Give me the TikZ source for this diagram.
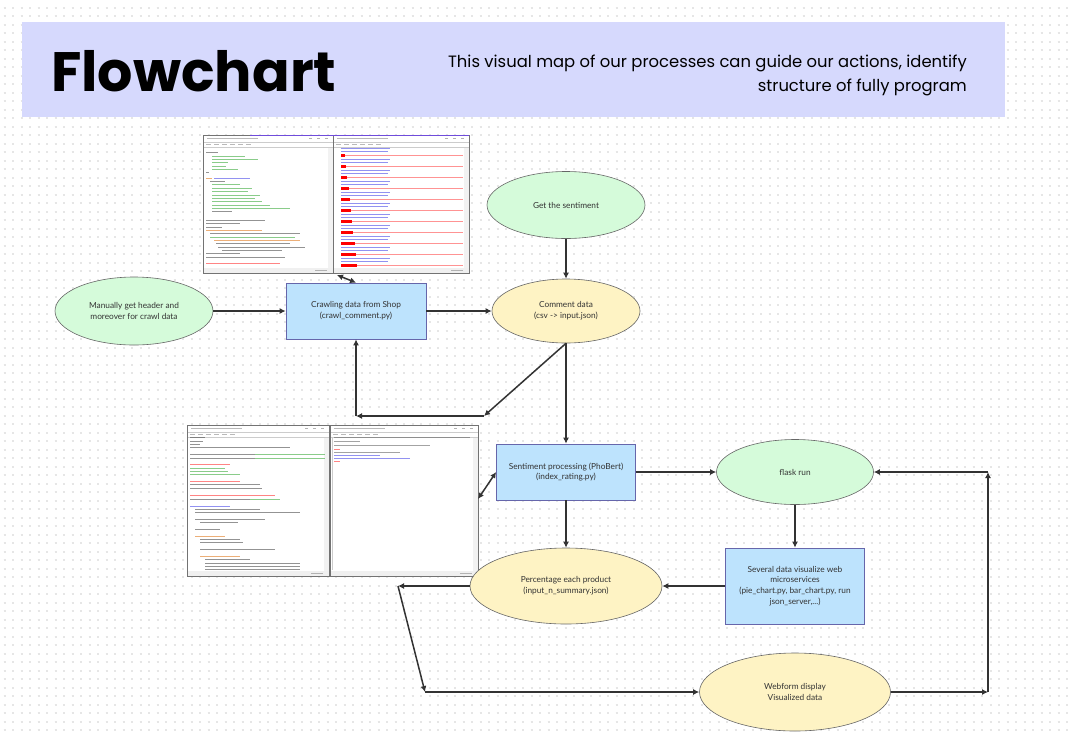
\documentclass[tikz,border=0pt]{standalone}
\usepackage{fontspec}
\setmainfont{Lato}
\newfontfamily\headfont{Poppins}
\usetikzlibrary{shapes.geometric,arrows.meta}

\definecolor{headbg}{HTML}{D6D9FD}
\definecolor{greenfill}{HTML}{D5FBDA}
\definecolor{yellowfill}{HTML}{FEF3C4}
\definecolor{bluefill}{HTML}{BDE3FD}
\definecolor{lineclr}{HTML}{333333}
\definecolor{dotclr}{HTML}{E6E6E6}
\definecolor{codegreen}{HTML}{3DAA3D}
\definecolor{codeblue}{HTML}{4A4AE8}
\definecolor{codeorange}{HTML}{E07A1F}

\tikzset{
  termnode/.style={ellipse, draw=black!60, line width=0.6pt, fill=greenfill, inner sep=0pt,
    align=center, text=black!80, font=\fontsize{8.3}{10.8}\selectfont},
  datanode/.style={termnode, fill=yellowfill},
  procbox/.style={rectangle, draw=black!55!blue!60, line width=0.7pt, fill=bluefill, inner sep=0pt,
    align=center, text=black!80, font=\fontsize{8.3}{10.8}\selectfont},
  flow/.style={draw=lineclr, line width=1.5pt, -{Latex[length=6pt,width=6pt]}},
  bothway/.style={draw=lineclr, line width=1.5pt, {Latex[length=6pt,width=6pt]}-{Latex[length=6pt,width=6pt]}},
  codeln/.style={line width=0.9pt},
}

\begin{document}
\begin{tikzpicture}[x=1pt,y=-1pt]
\useasboundingbox (0,0) rectangle (1068,732);
\fill[white] (0,0) rectangle (1068,732);
% dotted canvas
\foreach \y in {7.7,16.2,...,732}
  \draw[dotclr, line width=2pt, dash pattern=on 2pt off 6.5pt] (3.7,\y) -- (1068,\y);

% header
\fill[headbg] (22,22) rectangle (1005,117);
\node (title) at (51,91) [anchor=base west, inner sep=0pt, font=\headfont\bfseries\fontsize{55.5}{60}\selectfont] {Flowchart};
\node (sub) at (967,75) [anchor=east, inner sep=0pt, align=right, font=\headfont\fontsize{16.4}{24}\selectfont]
  {This visual map of our processes can guide our actions, identify\\structure of fully program};

% screenshots of the editors
\foreach \xa/\ya/\xb/\yb in {203/135/333/273, 333/135/469/273, 187/425/329/576, 330/425/478/576}
{
  \fill[white] (\xa,\ya) rectangle (\xb,\yb);
  \fill[gray!12] (\xa,\yb-5) rectangle (\xb,\yb);
  \fill[gray!10] (\xb-5,\ya+12) rectangle (\xb,\yb-5);
  \draw[gray!40, line width=0.4pt] (\xa,\ya+7) -- (\xb,\ya+7);
  \draw[gray!40, line width=0.4pt] (\xa,\ya+12) -- (\xb,\ya+12);
  \draw[gray!55, line width=0.8pt] (\xa+4,\ya+3.5) -- (\xa+55,\ya+3.5);
  \draw[gray!55, line width=0.7pt, dash pattern=on 5pt off 3pt] (\xa+3,\ya+9.5) -- (\xa+50,\ya+9.5);
  \draw[gray!60, line width=0.7pt, dash pattern=on 3pt off 5pt] (\xb-24,\ya+3.5) -- (\xb,\ya+3.5);
  \draw[gray!60, line width=0.6pt] (\xb-18,\yb-2.5) -- (\xb-6,\yb-2.5);
  \draw[black!55, line width=0.6pt] (\xa,\ya) rectangle (\xb,\yb);
}
\draw[blue!60!violet!70, line width=0.8pt] (250,135) -- (469,135);

% top left editor
\foreach \y/\a/\b/\c in {152/206/218/black!70, 156/212/245/codegreen, 159/212/258/codegreen,
  162/212/228/codegreen, 166/212/226/codegreen, 169/212/238/codegreen, 172/206/209/black!70,
  178/206/212/codeorange, 178/214/250/codeblue, 181/210/225/black!70, 184/212/240/codegreen,
  188/212/252/codegreen, 191/212/248/codegreen, 195/212/260/codegreen, 198/212/255/codegreen,
  201/212/262/codegreen, 205/212/270/codegreen, 208/212/290/codegreen, 211/212/232/black!70,
  220/206/265/black!70, 223/206/240/black!70, 227/206/222/black!70, 230/206/262/codeorange,
  233/210/300/black!70, 237/210/295/codegreen, 240/214/300/codeorange, 243/216/290/black!70,
  247/218/305/black!70, 250/222/282/black!70, 253/206/240/black!70, 257/206/285/black!70,
  263/206/280/red!80}
  \draw[codeln, \c, opacity=0.6] (\a,\y) -- (\b,\y);

% top right editor
\foreach \i in {0,...,10}
{
  \draw[codeln, codeblue, opacity=0.6] (341,148+11*\i) -- (390,148+11*\i);
  \draw[codeln, codeblue, opacity=0.6] (341,151.5+11*\i) -- (388,151.5+11*\i);
  \draw[codeln, red!70, opacity=0.6] (341,155+11*\i) -- (463,155+11*\i);
  \fill[red] (341,153.5+11*\i) rectangle (345+1.2*\i,156.5+11*\i);
}

% bottom left editor
\foreach \y/\a/\b/\c in {437/190/205/black!70, 441/190/203/black!70, 444/190/200/black!70,
  447/190/290/black!70, 454/190/255/black!70, 454/255/325/codegreen, 458/190/255/black!70,
  458/255/325/codegreen, 464/190/230/red!80, 468/190/225/codegreen, 471/190/228/codegreen,
  474/190/240/codegreen, 481/190/240/red!80, 484/190/260/black!70, 488/190/262/black!70,
  495/190/275/red!80, 499/190/250/black!70, 499/250/280/codegreen, 506/190/230/codeblue,
  509/195/260/black!70, 512/195/300/black!70, 519/195/265/black!70, 522/200/238/black!70,
  529/195/220/black!70, 536/195/225/codeorange, 539/200/240/black!70, 542/200/243/black!70,
  549/200/275/black!70, 556/200/240/codeorange, 559/205/250/black!70, 563/205/300/black!70,
  566/205/300/black!70, 569/205/300/black!70}
  \draw[codeln, \c, opacity=0.6] (\a,\y) -- (\b,\y);

% bottom right editor
\foreach \y/\a/\b/\c in {437/334/470/black!60, 441/334/360/black!60, 445/334/430/black!60,
  449/334/340/red!80, 452/334/400/black!60, 455/334/380/codeblue, 458/334/410/codeblue,
  461/334/340/red!80}
  \draw[codeln, \c, opacity=0.6] (\a,\y) -- (\b,\y);
\draw[gray!40, line width=0.5pt] (332,437) -- (332,570);

% flowchart nodes
\node (man) at (134,311) [termnode, minimum width=158pt, minimum height=68pt] {Manually get header and\\moreover for crawl data};
\node (crawl) at (356,311) [procbox, minimum width=140pt, minimum height=56pt] {Crawling data from Shop\\(crawl\_comment.py)};
\node (get) at (566,205) [termnode, minimum width=158pt, minimum height=67pt] {Get the sentiment};
\node (comment) at (566,311) [datanode, minimum width=148pt, minimum height=64pt] {Comment data\\(csv -> input.json)};
\node (senti) at (566,472) [procbox, minimum width=139pt, minimum height=56pt] {Sentiment processing (PhoBert)\\(index\_rating.py)};
\node (flask) at (795,472) [termnode, minimum width=157pt, minimum height=65pt] {flask run};
\node (sev) at (795,586) [procbox, minimum width=139pt, minimum height=76pt] {Several data visualize web\\microservices\\(pie\_chart.py, bar\_chart.py, run\\json\_server,...)};
\node (pct) at (566,586) [datanode, minimum width=192pt, minimum height=76pt] {Percentage each product\\(input\_n\_summary.json)};
\node (web) at (795,692) [datanode, minimum width=191pt, minimum height=78pt] {Webform display\\Visualized data};

% bends
\coordinate (c1) at (484,416);
\coordinate (c2) at (356,416);
\coordinate (c3) at (398,586);
\coordinate (c4) at (425,692);
\coordinate (c5) at (988,692);
\coordinate (c6) at (988,472);
\coordinate (s1) at (337,275);
\coordinate (s2) at (478,499);

\draw[flow] (man) -- (crawl);
\draw[flow] (crawl) -- (comment);
\draw[flow] (get) -- (comment);
\draw[flow] (comment) -- (senti);
\draw[flow] (comment.south) -- (c1);
\draw[flow] (c1) -- (c2);
\draw[flow] (c2) -- (crawl);
\draw[bothway] (s1) -- (crawl.north);
\draw[bothway] (s2) -- (senti.west);
\draw[flow] (senti) -- (flask);
\draw[flow] (senti) -- (pct);
\draw[flow] (flask) -- (sev);
\draw[flow] (sev) -- (pct);
\draw[flow] (pct) -- (c3);
\draw[flow] (c3) -- (c4);
\draw[flow] (c4) -- (web);
\draw[flow] (web) -- (c5);
\draw[flow] (c5) -- (c6);
\draw[flow] (c6) -- (flask);
\end{tikzpicture}
\end{document}
